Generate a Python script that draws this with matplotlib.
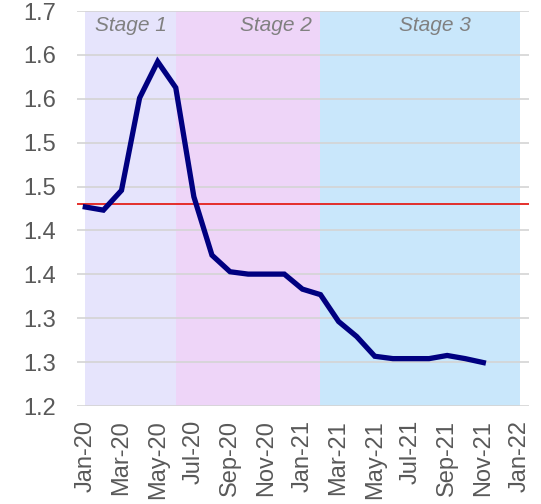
import matplotlib
matplotlib.use('Agg')
from matplotlib import pyplot as plt
import numpy as np

plt.rcParams['font.family'] = ['Liberation Sans', 'DejaVu Sans']

# monthly series, Jan-20 .. Nov-21
values = [1.452, 1.448, 1.473, 1.590, 1.636, 1.603, 1.465, 1.391, 1.370, 1.367,
          1.367, 1.367, 1.348, 1.341, 1.307, 1.288, 1.263, 1.260, 1.260, 1.260,
          1.264, 1.260, 1.255]
reference_level = 1.456

month_labels = ['Jan-20', 'Mar-20', 'May-20', 'Jul-20', 'Sep-20', 'Nov-20', 'Jan-21',
                'Mar-21', 'May-21', 'Jul-21', 'Sep-21', 'Nov-21', 'Jan-22']

# stage periods in months from Jan-20
stage_names = ['Stage 1', 'Stage 2', 'Stage 3']
stage_start = [0, 5, 13]
stage_end = [5, 13, 24]
stage_colors = ['#E6E4FC', '#EED5F8', '#C9E7FB']
stage_label_x = [2.5, 10.55, 19.3]

fig = plt.figure(figsize=(5.41, 5.04), dpi=100)
ax = fig.add_axes([0.1423, 0.1944, 0.8357, 0.7836])

for s, e, c in zip(stage_start, stage_end, stage_colors):
    ax.axvspan(s, e, color=c, lw=0, zorder=0)

y_ticks = np.linspace(1.2, 1.7, 10)
for t in y_ticks:
    ax.axhline(t, color='#D4D4D4', lw=1.2, zorder=1)

ax.axhline(reference_level, color='#E3201B', lw=1.3, zorder=2)

x = np.arange(len(values))
ax.plot(x, values, color='#000080', lw=3.8, solid_joinstyle='miter', zorder=3)

for name, lx in zip(stage_names, stage_label_x):
    ax.text(lx, 1.682, name, ha='center', va='center', style='italic',
            fontsize=15, color='#808080', zorder=4)

ax.set_xlim(-0.46, 24.53)
ax.set_ylim(1.2, 1.7)
ax.set_yticks(y_ticks)
ax.set_yticklabels(['%.1f' % t for t in y_ticks])
ax.set_xticks(np.arange(0, 25, 2))
ax.set_xticklabels(month_labels, rotation=90)
ax.tick_params(axis='both', length=0, labelsize=17, colors='#595959')
ax.tick_params(axis='y', pad=15)
ax.tick_params(axis='x', pad=10)
for sp in ax.spines.values():
    sp.set_visible(False)

fig.savefig('out.png', dpi=100)
